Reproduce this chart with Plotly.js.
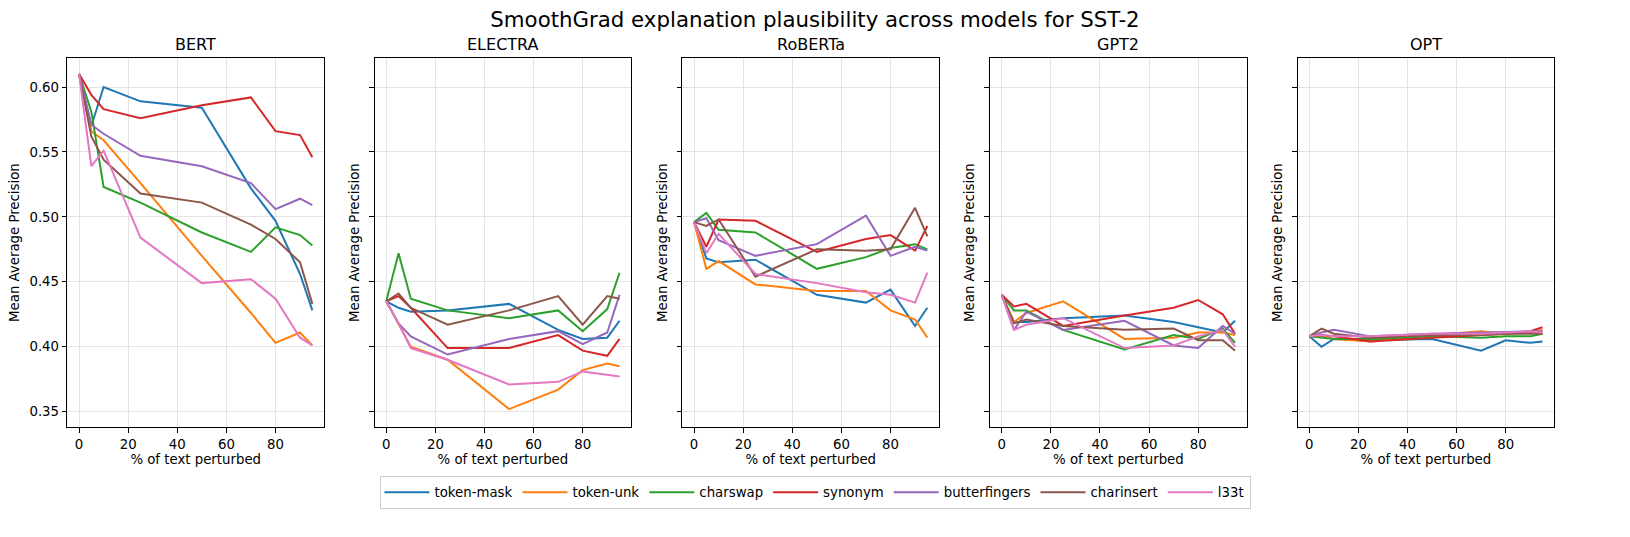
<!DOCTYPE html>
<html>
<head>
<meta charset="utf-8">
<script src="https://cdn.plot.ly/plotly-3.0.1.min.js"></script>
<style>html,body{margin:0;padding:0;background:#fff;}#chart{width:1630px;height:537px;}</style>
</head>
<body>
<div id="chart"></div>
<script>
// ---- data ----
const models = ['BERT', 'ELECTRA', 'RoBERTa', 'GPT2', 'OPT'];
const perturbations = ['token-mask', 'token-unk', 'charswap', 'synonym', 'butterfingers', 'charinsert', 'l33t'];
const pctPerturbed = [0, 5, 10, 25, 50, 70, 80, 90, 95];
const xTickVals = [0, 20, 40, 60, 80];
const yTickVals = [0.35, 0.40, 0.45, 0.50, 0.55, 0.60];
const yTickText = ['0.35', '0.40', '0.45', '0.50', '0.55', '0.60'];

// rows follow the order of `perturbations`
const bertValues = [
  [0.610, 0.570, 0.600, 0.589, 0.584, 0.522, 0.497, 0.456, 0.428],
  [0.610, 0.566, 0.559, 0.526, 0.470, 0.426, 0.403, 0.411, 0.401],
  [0.610, 0.581, 0.523, 0.511, 0.488, 0.473, 0.492, 0.486, 0.478],
  [0.610, 0.594, 0.583, 0.576, 0.586, 0.592, 0.566, 0.563, 0.546],
  [0.610, 0.571, 0.564, 0.547, 0.539, 0.526, 0.506, 0.514, 0.509],
  [0.610, 0.562, 0.544, 0.518, 0.511, 0.494, 0.483, 0.465, 0.433],
  [0.610, 0.539, 0.551, 0.484, 0.449, 0.452, 0.437, 0.407, 0.401]
];
const electraValues = [
  [0.435, 0.430, 0.427, 0.428, 0.433, 0.413, 0.406, 0.407, 0.420],
  [0.435, 0.418, 0.400, 0.390, 0.352, 0.367, 0.382, 0.387, 0.385],
  [0.435, 0.472, 0.437, 0.428, 0.422, 0.428, 0.412, 0.429, 0.457],
  [0.435, 0.439, 0.430, 0.399, 0.399, 0.409, 0.397, 0.393, 0.406],
  [0.435, 0.418, 0.408, 0.394, 0.406, 0.412, 0.402, 0.411, 0.440],
  [0.435, 0.441, 0.430, 0.417, 0.428, 0.439, 0.417, 0.439, 0.437],
  [0.435, 0.418, 0.399, 0.390, 0.371, 0.373, 0.381, 0.378, 0.377]
];
const robertaValues = [
  [0.496, 0.468, 0.465, 0.467, 0.440, 0.434, 0.444, 0.416, 0.430],
  [0.496, 0.460, 0.466, 0.448, 0.443, 0.443, 0.428, 0.421, 0.407],
  [0.496, 0.503, 0.490, 0.488, 0.460, 0.469, 0.476, 0.479, 0.475],
  [0.496, 0.477, 0.498, 0.497, 0.473, 0.483, 0.486, 0.474, 0.493],
  [0.496, 0.499, 0.482, 0.470, 0.479, 0.501, 0.470, 0.477, 0.474],
  [0.496, 0.493, 0.498, 0.454, 0.475, 0.474, 0.475, 0.507, 0.485],
  [0.496, 0.472, 0.487, 0.456, 0.449, 0.442, 0.440, 0.434, 0.457]
];
const gpt2Values = [
  [0.440, 0.419, 0.419, 0.422, 0.424, 0.419, 0.415, 0.411, 0.420],
  [0.440, 0.419, 0.426, 0.435, 0.406, 0.407, 0.411, 0.411, 0.409],
  [0.440, 0.428, 0.428, 0.413, 0.398, 0.409, 0.406, 0.414, 0.403],
  [0.440, 0.431, 0.433, 0.416, 0.424, 0.430, 0.436, 0.425, 0.410],
  [0.440, 0.413, 0.427, 0.413, 0.420, 0.401, 0.399, 0.416, 0.410],
  [0.440, 0.418, 0.421, 0.416, 0.413, 0.414, 0.405, 0.405, 0.397],
  [0.440, 0.413, 0.417, 0.422, 0.399, 0.401, 0.408, 0.413, 0.400]
];
const optValues = [
  [0.408, 0.400, 0.406, 0.405, 0.406, 0.397, 0.405, 0.403, 0.404],
  [0.408, 0.408, 0.406, 0.404, 0.409, 0.412, 0.410, 0.411, 0.413],
  [0.408, 0.407, 0.406, 0.406, 0.408, 0.407, 0.408, 0.408, 0.410],
  [0.408, 0.409, 0.408, 0.404, 0.407, 0.409, 0.410, 0.412, 0.415],
  [0.408, 0.411, 0.413, 0.408, 0.410, 0.411, 0.411, 0.412, 0.412],
  [0.408, 0.414, 0.410, 0.407, 0.409, 0.409, 0.410, 0.410, 0.410],
  [0.408, 0.409, 0.408, 0.408, 0.410, 0.410, 0.411, 0.412, 0.411]
];
const modelValues = [bertValues, electraValues, robertaValues, gpt2Values, optValues];

// ---- styling ----
const colors = ['#1f77b4', '#ff7f0e', '#2ca02c', '#d62728', '#9467bd', '#8c564b', '#e377c2'];
const W = 1630, H = 537;
const panelLeft = [67.4, 374.6, 682.4, 990.1, 1297.6];
const panelWidth = 256.6;
const plotTop = 58.2, plotBottom = 427.0;
const font = 'DejaVu Sans, sans-serif';

const traces = [];
models.forEach((m, mi) => {
  perturbations.forEach((p, pi) => {
    traces.push({
      type: 'scatter', mode: 'lines',
      x: pctPerturbed, y: modelValues[mi][pi],
      name: p, legendgroup: p, showlegend: mi === 0,
      line: {color: colors[pi], width: 2},
      xaxis: mi === 0 ? 'x' : 'x' + (mi + 1),
      yaxis: mi === 0 ? 'y' : 'y' + (mi + 1),
      hoverinfo: 'skip'
    });
  });
});

const layout = {
  width: W, height: H,
  margin: {l: 0, r: 0, t: 0, b: 0},
  paper_bgcolor: '#fff', plot_bgcolor: '#fff',
  font: {family: font, size: 13.3, color: '#000'},
  showlegend: true,
  title: {
    text: 'SmoothGrad explanation plausibility across models for SST-2',
    x: 0.5, xanchor: 'center', y: 1 - 19.5 / H, yanchor: 'middle',
    font: {family: font, size: 21.3, color: '#000'}
  },
  legend: {
    orientation: 'h', x: 0.5, xanchor: 'center', y: 1 - 476 / H, yanchor: 'top',
    bgcolor: '#fff', bordercolor: '#cccccc', borderwidth: 1,
    font: {family: font, size: 13.3, color: '#000'},
    itemwidth: 45
  },
  annotations: []
};

models.forEach((m, mi) => {
  const sx = mi === 0 ? '' : String(mi + 1);
  const x0 = panelLeft[mi] / W, x1 = (panelLeft[mi] + panelWidth) / W;
  layout['xaxis' + sx] = {
    domain: [x0, x1], range: [-4.75, 99.75], anchor: 'y' + sx,
    tickvals: xTickVals, ticktext: xTickVals.map(String),
    ticks: 'outside', ticklen: 4.7, tickwidth: 1, tickcolor: '#000',
    showline: true, mirror: true, linecolor: '#000', linewidth: 1,
    showgrid: true, gridcolor: '#e3e3e3', gridwidth: 1, zeroline: false,
    tickfont: {family: font, size: 13.3, color: '#000'},
    title: {text: '% of text perturbed', standoff: 3, font: {family: font, size: 13.3, color: '#000'}}
  };
  layout['yaxis' + sx] = {
    domain: [1 - plotBottom / H, 1 - plotTop / H], range: [0.3382, 0.6222], anchor: 'x' + sx,
    tickvals: yTickVals, ticktext: yTickText, showticklabels: mi === 0,
    ticks: 'outside', ticklen: 4.7, tickwidth: 1, tickcolor: '#000',
    showline: true, mirror: true, linecolor: '#000', linewidth: 1,
    showgrid: true, gridcolor: '#e3e3e3', gridwidth: 1, zeroline: false,
    tickfont: {family: font, size: 13.3, color: '#000'},
    title: {text: 'Mean Average Precision', standoff: 6, font: {family: font, size: 13.3, color: '#000'}}
  };
  layout.annotations.push({
    text: m, xref: 'paper', yref: 'paper',
    x: (x0 + x1) / 2, y: 1 - 44 / H, xanchor: 'center', yanchor: 'middle',
    showarrow: false, font: {family: font, size: 16, color: '#000'}
  });
});

Plotly.newPlot('chart', traces, layout, {staticPlot: true, displayModeBar: false});
</script>
</body>
</html>
